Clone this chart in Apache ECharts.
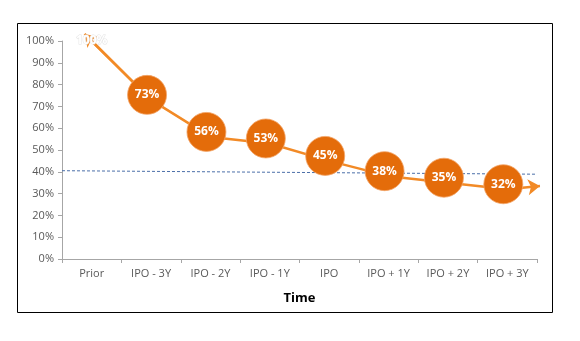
<!DOCTYPE html>
<html>
<head>
<meta charset="utf-8">
<script src="https://cdn.jsdelivr.net/npm/echarts@6/dist/echarts.min.js"></script>
<style>
  html, body { margin: 0; padding: 0; background: #fff; }
  #chart { width: 580px; height: 341px; }
</style>
</head>
<body>
<div id="chart"></div>
<script>
// Periods along the horizontal axis
const periods = ['Prior', 'IPO - 3Y', 'IPO - 2Y', 'IPO - 1Y', 'IPO', 'IPO + 1Y', 'IPO + 2Y', 'IPO + 3Y'];
// Share (%) for each period
const shares = [100, 73, 56, 53, 45, 38, 35, 32];
// Reference level (%) at the left and right edges of the plot
const benchmarkLeft = 40.5;
const benchmarkRight = 38.9;
// Percent tick labels on the vertical axis
const percentTicks = [0, 10, 20, 30, 40, 50, 60, 70, 80, 90, 100];

const ORANGE_LINE = '#F28A26';
const ORANGE_DOT = '#E46C0A';
const FONT = 'Open Sans, Noto Sans, sans-serif';

const chart = echarts.init(document.getElementById('chart'), null, { renderer: 'canvas' });

// points on the hidden value axis share the category centres
const linePoints = shares.map((v, i) => i === 0
  ? { value: [i, v], label: {
        show: true, position: 'inside', formatter: v + '%',
        color: '#ffffff', fontSize: 12, fontWeight: 'bold', fontFamily: FONT,
        textBorderColor: '#e4e4e4', textBorderWidth: 1 } }
  : [i, v]);
const bubblePoints = shares.slice(1).map((v, i) => [i + 1, v]);
const last = shares.length - 1;

// arrow heads: the first segment continued a little past the first point,
// and a short lead-out past the last one
const lead = 0.12;
const headEnd = [0 - lead, shares[0] + lead * (shares[0] - shares[1])];
const tailEnd = [last + 0.55, shares[last] + 1.5];

chart.setOption({
  animation: false,
  graphic: [{
    type: 'rect', silent: true, z: -10,
    shape: { x: 17.5, y: 23.5, width: 535, height: 289 },
    style: { fill: 'none', stroke: '#000', lineWidth: 1 }
  }],
  grid: { left: 62, right: 43, top: 41, bottom: 82 },
  xAxis: [{
    type: 'category',
    data: periods,
    boundaryGap: true,
    name: 'Time',
    nameLocation: 'middle',
    nameGap: 33,
    nameTextStyle: { color: '#000', fontSize: 13, fontWeight: 'bold', fontFamily: FONT },
    axisLine: { onZero: false, lineStyle: { color: '#a6a6a6', width: 1 } },
    axisTick: { show: true, length: 4, lineStyle: { color: '#a6a6a6' } },
    axisLabel: { color: '#595959', fontSize: 11, fontFamily: FONT, margin: 9 },
    splitLine: { show: false }
  }, {
    type: 'value',
    min: -0.5, max: 7.5,
    show: false
  }],
  yAxis: {
    type: 'value',
    min: percentTicks[0],
    max: percentTicks[percentTicks.length - 1],
    interval: percentTicks[1] - percentTicks[0],
    axisLine: { show: true, onZero: false, lineStyle: { color: '#a6a6a6', width: 1 } },
    axisTick: { show: true, length: 4, lineStyle: { color: '#a6a6a6' } },
    axisLabel: { color: '#595959', fontSize: 11, fontFamily: FONT, margin: 8, formatter: '{value}%' },
    splitLine: { show: false }
  },
  series: [{
    // dashed reference level
    type: 'line',
    xAxisIndex: 1,
    data: [[-0.5, benchmarkLeft], [7.5, benchmarkRight]],
    symbol: 'none',
    lineStyle: { color: '#4a6ea8', width: 1, type: [3, 2] },
    z: 1,
    silent: true
  }, {
    type: 'line',
    xAxisIndex: 1,
    data: linePoints,
    symbol: 'circle',
    symbolSize: 0,
    clip: false,
    itemStyle: { color: ORANGE_LINE },
    lineStyle: { color: ORANGE_LINE, width: 2.5 },
    z: 2
  }, {
    // arrow-headed ends of the trend line
    type: 'lines',
    coordinateSystem: 'cartesian2d',
    xAxisIndex: 1,
    clip: false,
    silent: true,
    symbol: ['none', 'arrow'],
    symbolSize: [10, 12],
    lineStyle: { color: ORANGE_LINE, width: 2.5, opacity: 1 },
    data: [
      { coords: [[1, shares[1]], headEnd] },
      { coords: [[last, shares[last]], tailEnd] }
    ],
    z: 2
  }, {
    type: 'scatter',
    xAxisIndex: 1,
    data: bubblePoints,
    symbol: 'circle',
    symbolSize: 39,
    symbolOffset: [-4, -5],
    itemStyle: { color: ORANGE_DOT, opacity: 1, borderColor: '#f3a468', borderWidth: 0.8 },
    label: {
      show: true, position: 'inside',
      formatter: p => p.value[1] + '%',
      color: '#fff', fontSize: 12, fontWeight: 'bold', fontFamily: FONT
    },
    z: 5
  }]
});
</script>
</body>
</html>
